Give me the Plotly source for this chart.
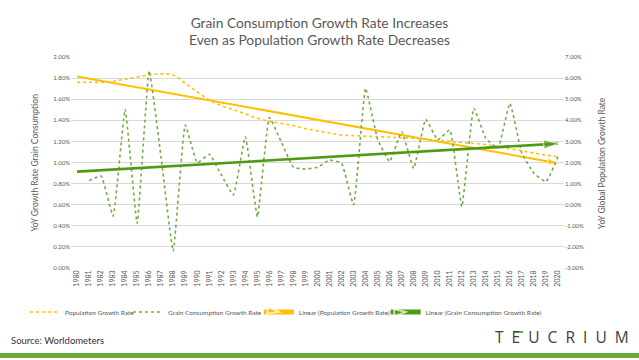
import math
import numpy as np
import plotly.graph_objects as go

years = list(range(1980, 2021))

# Population growth rate (%), plotted against left axis
population = [1.76, 1.76, 1.76, 1.77, 1.79, 1.81, 1.83, 1.84, 1.83, 1.75,
              1.67, 1.59, 1.54, 1.50, 1.46, 1.42, 1.39, 1.37, 1.35, 1.32,
              1.30, 1.28, 1.26, 1.255, 1.25, 1.245, 1.24, 1.235, 1.23, 1.22,
              1.21, 1.20, 1.19, 1.18, 1.17, 1.15, 1.13, 1.11, 1.09, 1.07, 1.055]

# Grain consumption growth rate (%), 1981-2020, plotted against right axis
grain_years = list(range(1981, 2021))
grain = [1.14, 1.36, -0.54, 4.52, -0.88, 6.35, 2.2, -2.2, 3.78, 1.99,
         2.39, 1.41, 0.46, 3.22, -0.57, 4.13, 2.96, 1.77, 1.69, 1.77,
         2.12, 1.96, 0.0, 5.52, 3.1, 2.04, 3.46, 1.72, 4.05, 3.07,
         3.54, -0.09, 4.57, 3.15, 2.67, 4.81, 2.44, 1.49, 1.09, 2.27]

left_ticks = [0.0, 0.2, 0.4, 0.6, 0.8, 1.0, 1.2, 1.4, 1.6, 1.8, 2.0]
right_ticks = [-3, -2, -1, 0, 1, 2, 3, 4, 5, 6, 7]

# linear trends
p_fit = np.polyfit(years, population, 1)
g_fit = np.polyfit(grain_years, grain, 1)
trend_x = [years[0], years[-1]]
p_trend = [float(np.polyval(p_fit, x)) for x in trend_x]
g_trend = [float(np.polyval(g_fit, x)) for x in trend_x]

W, H = 639, 360
ML, MR, MT, MB = 71, 74.5, 57, 92
PW, PH = W - ML - MR, H - MT - MB
XR = [1979.5, 2020.5]
Y1R = [0, 2.0]
Y2R = [-3, 7]


def px_x(p):
    return (p - ML) / PW


def px_y(p):
    return (H - MB - p) / PH


def arrow_angle(y0, y1, yr):
    dx = (trend_x[1] - trend_x[0]) * PW / (XR[1] - XR[0])
    dy_down = -(y1 - y0) * PH / (yr[1] - yr[0])
    return 90 + math.degrees(math.atan2(dy_down, dx))


GRAY = "#595959"
YEL = "#FFC000"
GRN = "#70AD47"
GRN_D = "#4F9A12"
FONT = "Lato"

fig = go.Figure()
fig.add_trace(go.Scatter(
    x=years, y=population, name="Population Growth Rate", mode="lines",
    line=dict(color=YEL, width=1.6, dash="dot", shape="spline", smoothing=1),
    yaxis="y", legend="legend"))
fig.add_trace(go.Scatter(
    x=grain_years, y=grain, name="Grain Consumption Growth Rate", mode="lines",
    line=dict(color=GRN, width=1.6, dash="dot", shape="spline", smoothing=0.35),
    yaxis="y2", legend="legend2"))
fig.add_trace(go.Scatter(
    x=trend_x, y=p_trend, name="Linear (Population Growth Rate)", mode="lines+markers",
    line=dict(color=YEL, width=2),
    marker=dict(symbol="arrow", angleref="up", angle=arrow_angle(*p_trend, Y1R),
                size=[0, 11], color=YEL),
    yaxis="y", legend="legend3"))
fig.add_trace(go.Scatter(
    x=trend_x, y=g_trend, name="Linear (Grain Consumption Growth Rate)", mode="lines+markers",
    line=dict(color=GRN_D, width=2.6),
    marker=dict(symbol="arrow", angleref="up", angle=arrow_angle(*g_trend, Y2R),
                size=[0, 15], color=GRN_D),
    yaxis="y2", legend="legend4"))


def leg(text_start, constant=False):
    d = dict(orientation="h", x=px_x(text_start - 40), xanchor="left",
             y=px_y(312), yanchor="middle", bgcolor="rgba(0,0,0,0)",
             font=dict(size=6.5, color=GRAY, family=FONT), itemwidth=30)
    if constant:
        d["itemsizing"] = "constant"
    return d


fig.update_layout(
    width=W, height=H,
    margin=dict(l=ML, r=MR, t=MT, b=MB, autoexpand=False),
    paper_bgcolor="white", plot_bgcolor="white",
    font=dict(family=FONT, color=GRAY),
    showlegend=True,
    legend=leg(65), legend2=leg(168), legend3=leg(299, True), legend4=leg(426, True),
    title=dict(text="Grain Consumption Growth Rate Increases",
               x=0.5, xanchor="center", y=1 - 23 / H, yanchor="middle",
               font=dict(size=13.8, color=GRAY, family=FONT)),
    xaxis=dict(range=XR, tickmode="array", tickvals=years,
               ticktext=[str(y) for y in years], tickangle=-90,
               tickfont=dict(size=7, color=GRAY), showgrid=False, zeroline=False,
               showline=False, ticks=""),
    yaxis=dict(range=Y1R, tickmode="array", tickvals=left_ticks,
               ticktext=[f"{v:.2f}%" for v in left_ticks],
               tickfont=dict(size=6, color=GRAY), gridcolor="#D9D9D9", gridwidth=1,
               zeroline=False, showline=False, ticks=""),
    yaxis2=dict(range=Y2R, tickmode="array", tickvals=right_ticks,
                ticktext=[f"{v:.2f}%" for v in right_ticks],
                tickfont=dict(size=6, color=GRAY), overlaying="y", side="right",
                showgrid=False, zeroline=False, showline=False, ticks=""),
    shapes=[
        dict(type="rect", xref="paper", yref="paper",
             x0=px_x(-5), x1=px_x(W + 5), y0=px_y(358), y1=px_y(353),
             line=dict(width=0), fillcolor="#6AAB3F"),
        dict(type="rect", xref="paper", yref="paper",
             x0=px_x(515), x1=px_x(523.5), y0=px_y(333), y1=px_y(331),
             line=dict(width=0), fillcolor="#6AAB3F"),
    ],
)

fig.add_annotation(text="Even as Population Growth Rate Decreases", x=0.5, xref="paper",
                   y=px_y(40), yref="paper", xanchor="center", yanchor="middle", showarrow=False,
                   font=dict(size=13.8, color=GRAY, family=FONT))
fig.layout.annotations[0].update(x=(W / 2 - ML) / PW)
fig.add_annotation(text="YoY Growth Rate Grain Consumption", textangle=-90,
                   x=px_x(34), xref="paper", y=0.5, yref="paper", showarrow=False,
                   xanchor="center", font=dict(size=8.5, color=GRAY))
fig.add_annotation(text="YoY Global Population Growth Rate", textangle=-90,
                   x=px_x(602), xref="paper", y=0.5, yref="paper", showarrow=False,
                   xanchor="center", font=dict(size=8.5, color=GRAY))
fig.add_annotation(text="Source: Worldometers", x=px_x(9), y=px_y(340),
                   xref="paper", yref="paper", xanchor="left", yanchor="middle", showarrow=False,
                   font=dict(size=9.5, color="#333333", family=FONT))
NB = "\u00a0\u00a0"
fig.add_annotation(text=NB.join("TEUCRIUM"),
                   x=px_x(632), y=px_y(337),
                   xref="paper", yref="paper", xanchor="right", yanchor="middle", showarrow=False,
                   font=dict(size=15.5, color="#404040", family="Open Sans"))

fig.write_html("out.html", config={"displayModeBar": False},
               post_script="document.body.style.margin='0px';document.body.style.overflow='hidden';")
